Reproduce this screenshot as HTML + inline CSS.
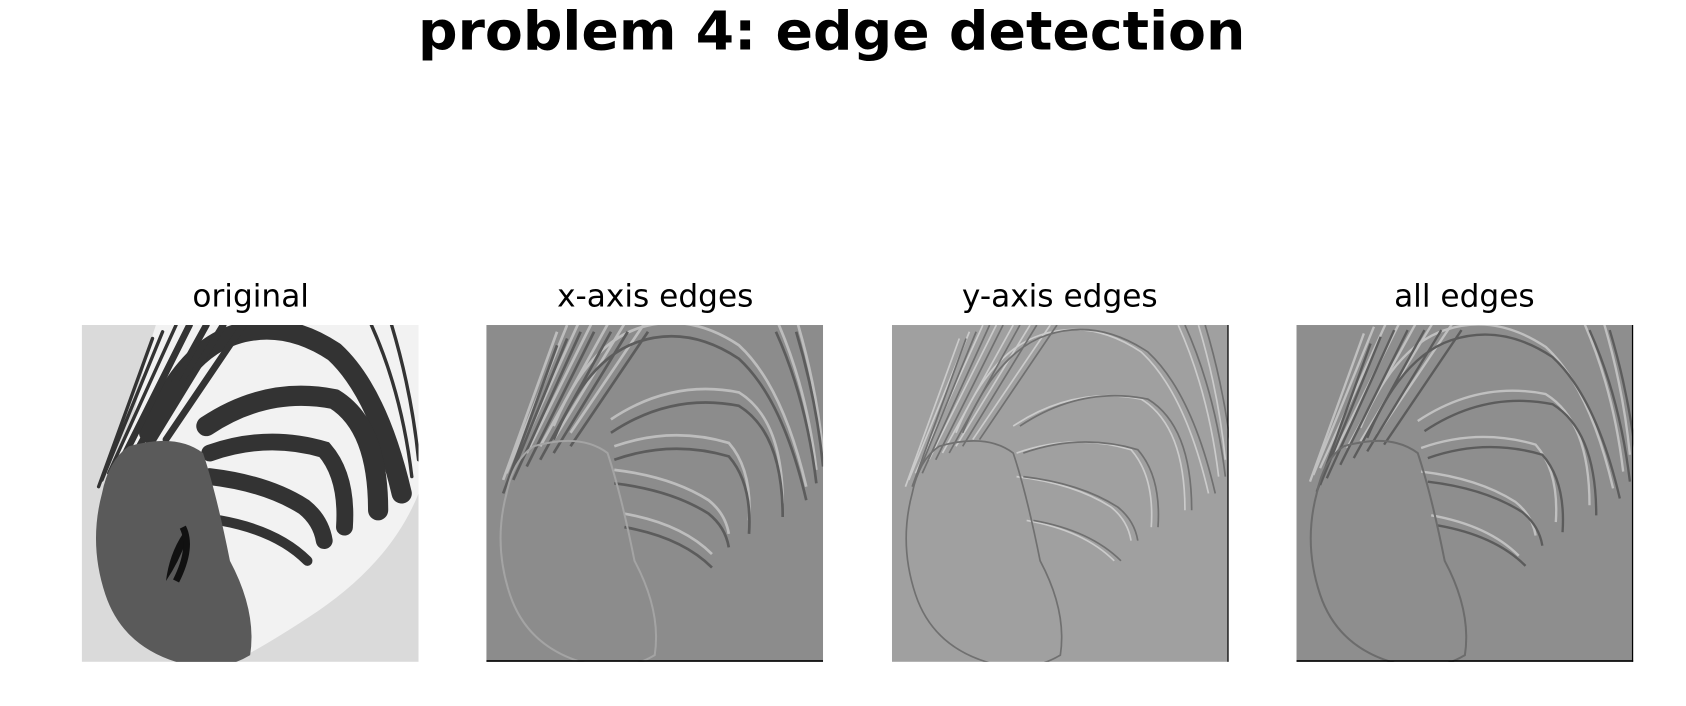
<!DOCTYPE html>
<html><head><meta charset="utf-8"><style>
html,body{margin:0;padding:0;background:#fff;width:1686px;height:706px;overflow:hidden}
svg{display:block}
text{font-family:"DejaVu Sans","Liberation Sans",sans-serif;fill:#000}
</style></head><body>
<svg width="1686" height="706" viewBox="0 0 1567 656" preserveAspectRatio="none">
<defs>
  <clipPath id="pc"><rect x="0" y="0" width="100" height="100"/></clipPath>
  <g id="stripes">
    <path d="M20 32 Q30 8 45 3 Q60 -2 75 8 Q88 20 95 50" />
    <path d="M37 30 Q55 18 75 22 Q88 30 88 55" />
    <path d="M38 38 Q55 32 72 37 Q79 45 78 60" />
    <path d="M38 45 Q55 47 66 54 Q71 58 72 64" />
    <path d="M41 58 Q58 61 67 70" />
    <path d="M32 0 L12 40" /><path d="M37 0 L16 38" /><path d="M42 0 L20 36" /><path d="M48 0 L25 34" />
    <path d="M28 0 L8 44" /><path d="M24 2 L6 46" /><path d="M21 4 L5 48" />
    <path d="M92 0 Q98 20 100 40" /><path d="M86 0 Q95 20 98 45" />
  </g>
  <path id="nose" d="M14 36 Q28 32 36 38 Q40 50 44 70 Q52 85 50 98 Q40 104 28 100 Q12 95 7 80 Q2 65 6 50 Q8 40 14 36 Z"/>
</defs>

<text x="773" y="46" font-size="50" font-weight="bold" text-anchor="middle" textLength="769" lengthAdjust="spacingAndGlyphs">problem 4: edge detection</text>

<text x="233" y="285" font-size="29" text-anchor="middle">original</text>
<text x="609" y="285" font-size="29" text-anchor="middle">x-axis edges</text>
<text x="985" y="285" font-size="29" text-anchor="middle">y-axis edges</text>
<text x="1361" y="285" font-size="29" text-anchor="middle">all edges</text>

<!-- original -->
<g transform="translate(76,302) scale(3.13)" clip-path="url(#pc)">
  <rect width="100" height="100" fill="#dadada"/>
  <path d="M22 0 L100 0 L100 50 Q92 70 70 85 Q55 95 45 100 L30 100 Q10 90 6 70 Q4 50 15 30 Q18 12 22 0Z" fill="#f2f2f2"/>
  <g fill="none" stroke="#333" stroke-linecap="round">
    <g stroke-width="6"><path d="M20 32 Q30 8 45 3 Q60 -2 75 8 Q88 20 95 50"/><path d="M37 30 Q55 18 75 22 Q88 30 88 55"/></g>
    <g stroke-width="5"><path d="M38 38 Q55 32 72 37 Q79 45 78 60"/><path d="M38 45 Q55 47 66 54 Q71 58 72 64"/></g>
    <path stroke-width="3" d="M41 58 Q58 61 67 70"/>
    <g stroke-width="2"><path d="M32 0 L12 40"/><path d="M37 0 L16 38"/><path d="M42 0 L20 36"/><path d="M48 0 L25 34"/></g>
    <g stroke-width="1"><path d="M28 0 L8 44"/><path d="M24 2 L6 46"/><path d="M21 4 L5 48"/><path d="M92 0 Q98 20 100 40"/><path d="M86 0 Q95 20 98 45"/></g>
  </g>
  <use href="#nose" fill="#5a5a5a"/>
  <path d="M30 62 Q26 68 25 76 Q29 70 31 64Z" fill="#111"/>
  <path d="M30 60 Q33 66 28 76" stroke="#111" stroke-width="2" fill="none"/>
</g>

<!-- x-axis edges -->
<g transform="translate(452,302) scale(3.13)" clip-path="url(#pc)">
  <rect width="100" height="100" fill="#8c8c8c"/>
  <use href="#stripes" fill="none" stroke="#bdbdbd" stroke-width="0.8" transform="translate(0,-2)"/>
  <use href="#stripes" fill="none" stroke="#5c5c5c" stroke-width="0.8" transform="translate(0,2)"/>
  <use href="#nose" fill="none" stroke="#a4a4a4" stroke-width="0.6"/>
  <rect y="99.5" width="100" height="0.5" fill="#000"/>
</g>

<!-- y-axis edges -->
<g transform="translate(829,302) scale(3.13)" clip-path="url(#pc)">
  <rect width="100" height="100" fill="#a0a0a0"/>
  <use href="#stripes" fill="none" stroke="#cbcbcb" stroke-width="0.5" transform="translate(-1,0)"/>
  <use href="#stripes" fill="none" stroke="#707070" stroke-width="0.5" transform="translate(1,0)"/>
  <use href="#nose" fill="none" stroke="#707070" stroke-width="0.5"/>
  <rect x="99.6" width="0.4" height="100" fill="#000"/>
</g>

<!-- all edges -->
<g transform="translate(1205,302) scale(3.13)" clip-path="url(#pc)">
  <rect width="100" height="100" fill="#8e8e8e"/>
  <use href="#stripes" fill="none" stroke="#c0c0c0" stroke-width="0.7" transform="translate(-1,-1.5)"/>
  <use href="#stripes" fill="none" stroke="#5c5c5c" stroke-width="0.7" transform="translate(1,1.5)"/>
  <use href="#nose" fill="none" stroke="#6c6c6c" stroke-width="0.6"/>
  <rect y="99.5" width="100" height="0.5" fill="#000"/>
  <rect x="99.6" width="0.4" height="100" fill="#000"/>
</g>
</svg>
</body></html>
